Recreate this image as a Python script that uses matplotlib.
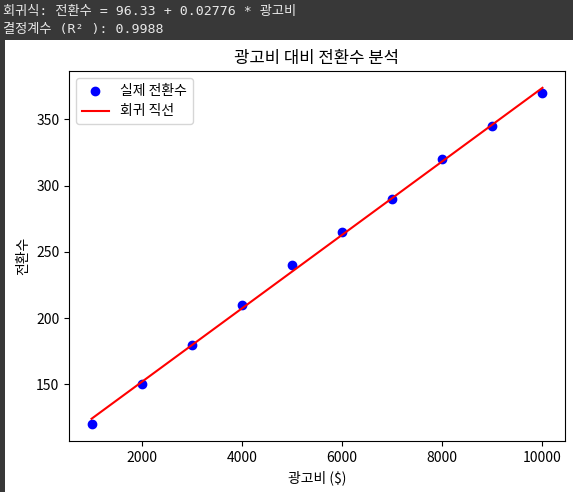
import numpy as np
import matplotlib
matplotlib.use("Agg")
import matplotlib.pyplot as plt
from matplotlib.patches import Rectangle

plt.rcParams['font.family'] = ['Noto Sans CJK KR', 'DejaVu Sans']
plt.rcParams['axes.unicode_minus'] = False

ad_spend = [1000, 2000, 3000, 4000, 5000, 6000, 7000, 8000, 9000, 10000]
conversions = [120, 150, 180, 210, 240, 265, 290, 320, 345, 370]

x = np.array(ad_spend)
y = np.array(conversions)
slope, intercept = np.polyfit(x, y, 1)
r2 = np.corrcoef(x, y)[0, 1] ** 2

W, H = 573, 492
fig = plt.figure(figsize=(W / 100, H / 100), dpi=100)
fig.patch.set_facecolor('white')

dark = '#383838'
fig.add_artist(Rectangle((0, 1 - 40 / H), 1, 40 / H, transform=fig.transFigure,
                         facecolor=dark, edgecolor='none', zorder=-5))
fig.add_artist(Rectangle((0, 0), 5 / W, 1, transform=fig.transFigure,
                         facecolor=dark, edgecolor='none', zorder=-5))

hdr_font = ['DejaVu Sans Mono', 'Noto Sans CJK KR']
fig.text(3 / W, 1 - 12 / H, f"회귀식: 전환수 = {intercept:.2f} + {slope:.5f} * 광고비",
         color='#e8e8e8', fontsize=9.5, family=hdr_font, va='center', ha='left')
fig.text(3 / W, 1 - 30 / H, f"결정계수 (R² ): {r2:.4f}",
         color='#e8e8e8', fontsize=9.5, family=hdr_font, va='center', ha='left')

ax = fig.add_axes([69 / W, 1 - 441 / H, (565 - 69) / W, (441 - 71) / H])
ax.scatter(x, y, color='blue', label='실제 전환수')
ax.plot(x, slope * x + intercept, color='red', label='회귀 직선')
ax.set_title('광고비 대비 전환수 분석', fontsize=12)
ax.set_xlabel('광고비 ($)')
ax.set_ylabel('전환수')
ax.legend(loc='upper left')

fig.savefig('out.png', dpi=100)
